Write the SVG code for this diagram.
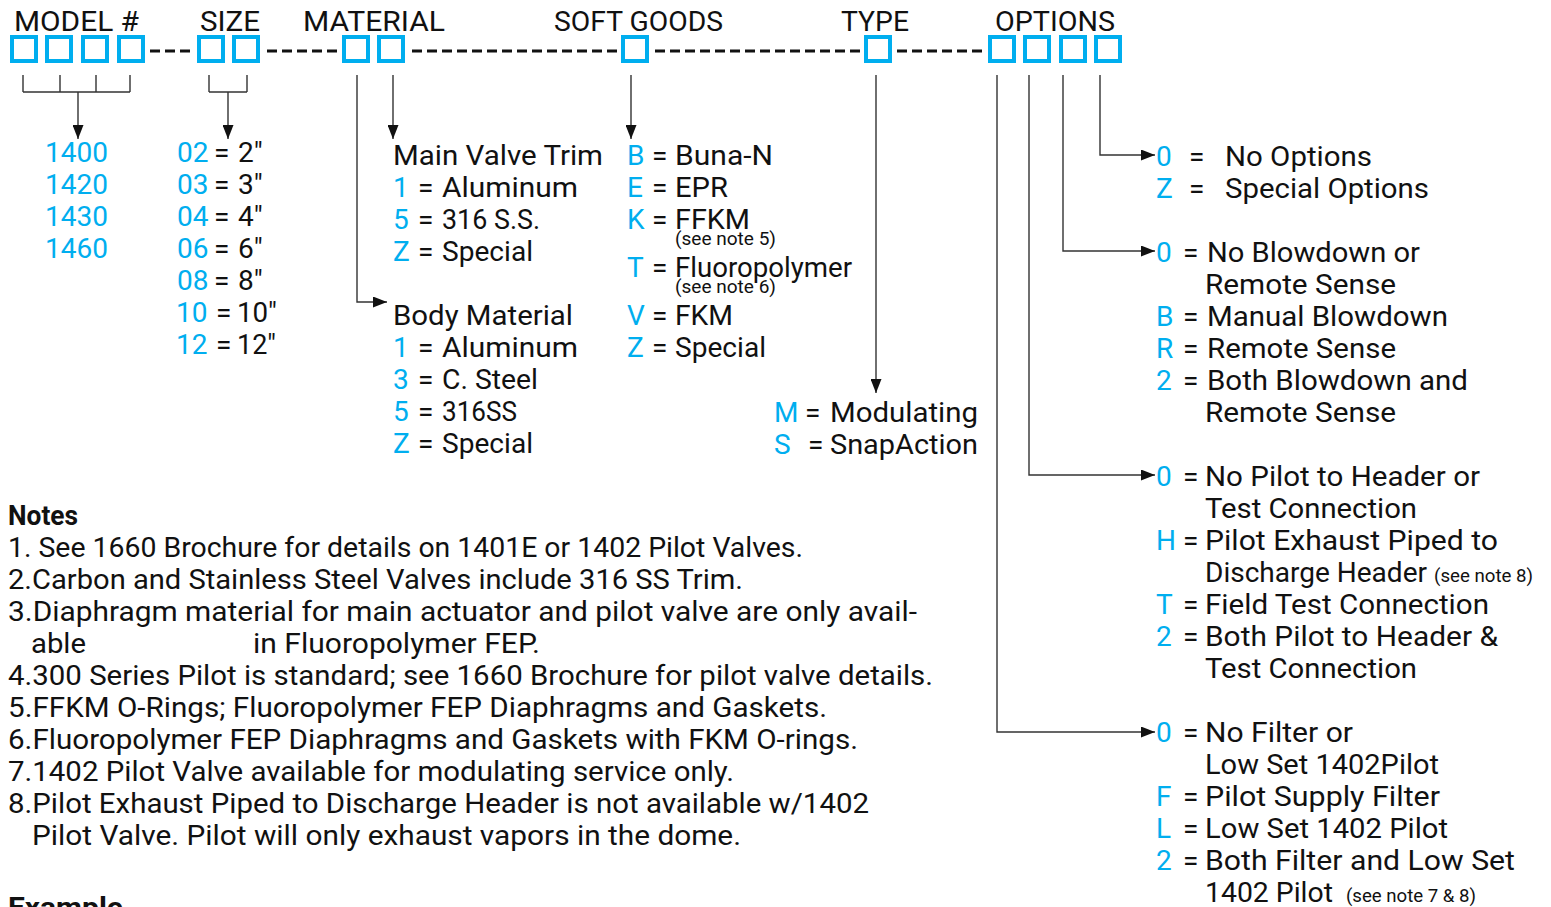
<svg xmlns="http://www.w3.org/2000/svg" width="1551" height="907" viewBox="0 0 1551 907">
  <style>
    text { font-family: Roboto, "Noto Sans", "Liberation Sans", sans-serif; font-size: 28px; fill: #111; }
    .c { fill: #00AEEF; }
    .sm { font-size: 18px; }
    .b { font-weight: bold; }
    .box { fill: none; stroke: #00AEEF; stroke-width: 4; }
    .dash { stroke: #111; stroke-width: 3; stroke-dasharray: 10 5; }
    .ln { fill: none; stroke: #333; stroke-width: 1.4; }
  </style>
  <defs>
    <marker id="arr" markerUnits="userSpaceOnUse" markerWidth="15" markerHeight="11" refX="14" refY="5.5" orient="auto">
      <path d="M0,0 L14,5.5 L0,11 Z" fill="#111"/>
    </marker>
  </defs>
  <rect width="1551" height="907" fill="#fff"/>

  <!-- part-number header -->
  <g id="header">
    <text x="14" y="31" textLength="125" lengthAdjust="spacingAndGlyphs">MODEL #</text>
    <text x="200" y="31" textLength="60" lengthAdjust="spacingAndGlyphs">SIZE</text>
    <text x="303" y="31" textLength="142" lengthAdjust="spacingAndGlyphs">MATERIAL</text>
    <text x="554" y="31" textLength="169" lengthAdjust="spacingAndGlyphs">SOFT GOODS</text>
    <text x="841" y="31" textLength="68" lengthAdjust="spacingAndGlyphs">TYPE</text>
    <text x="995" y="31" textLength="120" lengthAdjust="spacingAndGlyphs">OPTIONS</text>

    <rect class="box" x="12" y="37" width="24" height="24"/>
    <rect class="box" x="47" y="37" width="24" height="24"/>
    <rect class="box" x="83" y="37" width="24" height="24"/>
    <rect class="box" x="119" y="37" width="24" height="24"/>
    <rect class="box" x="199" y="37" width="24" height="24"/>
    <rect class="box" x="234" y="37" width="24" height="24"/>
    <rect class="box" x="344" y="37" width="24" height="24"/>
    <rect class="box" x="379" y="37" width="24" height="24"/>
    <rect class="box" x="623" y="37" width="24" height="24"/>
    <rect class="box" x="866" y="37" width="24" height="24"/>
    <rect class="box" x="990" y="37" width="24" height="24"/>
    <rect class="box" x="1025" y="37" width="24" height="24"/>
    <rect class="box" x="1061" y="37" width="24" height="24"/>
    <rect class="box" x="1096" y="37" width="24" height="24"/>

    <line class="dash" x1="150" y1="51" x2="192" y2="51"/>
    <line class="dash" x1="267" y1="51" x2="338" y2="51"/>
    <line class="dash" x1="412" y1="51" x2="617" y2="51"/>
    <line class="dash" x1="655" y1="51" x2="860" y2="51"/>
    <line class="dash" x1="897" y1="51" x2="983" y2="51"/>
  </g>

  <!-- connectors -->
  <g id="connectors">
    <path class="ln" d="M23,75 V92 M60,75 V92 M96,75 V92 M130,75 V92 M23,92 H130"/>
    <line class="ln" x1="78" y1="92" x2="78" y2="139" marker-end="url(#arr)"/>
    <path class="ln" d="M209,75 V92 M247,75 V92 M209,92 H247"/>
    <line class="ln" x1="228" y1="92" x2="228" y2="139" marker-end="url(#arr)"/>
    <line class="ln" x1="393" y1="75" x2="393" y2="139" marker-end="url(#arr)"/>
    <polyline class="ln" points="357,75 357,302 387,302" marker-end="url(#arr)"/>
    <line class="ln" x1="631" y1="75" x2="631" y2="139" marker-end="url(#arr)"/>
    <line class="ln" x1="876" y1="75" x2="876" y2="393" marker-end="url(#arr)"/>
    <polyline class="ln" points="1100,75 1100,155 1155,155" marker-end="url(#arr)"/>
    <polyline class="ln" points="1063,75 1063,251 1155,251" marker-end="url(#arr)"/>
    <polyline class="ln" points="1029,75 1029,475 1155,475" marker-end="url(#arr)"/>
    <polyline class="ln" points="997,75 997,732 1155,732" marker-end="url(#arr)"/>
  </g>

  <!-- model numbers -->
  <g id="model">
    <text class="c" x="45" y="162" textLength="63" lengthAdjust="spacingAndGlyphs">1400</text>
    <text class="c" x="45" y="194" textLength="63" lengthAdjust="spacingAndGlyphs">1420</text>
    <text class="c" x="45" y="226" textLength="63" lengthAdjust="spacingAndGlyphs">1430</text>
    <text class="c" x="45" y="258" textLength="63" lengthAdjust="spacingAndGlyphs">1460</text>
  </g>

  <!-- sizes -->
  <g id="size">
    <text class="c" x="177" y="162">02</text><text x="214" y="162">=</text><text x="238" y="162">2"</text>
    <text class="c" x="177" y="194">03</text><text x="214" y="194">=</text><text x="238" y="194">3"</text>
    <text class="c" x="177" y="226">04</text><text x="214" y="226">=</text><text x="238" y="226">4"</text>
    <text class="c" x="177" y="258">06</text><text x="214" y="258">=</text><text x="238" y="258">6"</text>
    <text class="c" x="177" y="290">08</text><text x="214" y="290">=</text><text x="238" y="290">8"</text>
    <text class="c" x="176" y="322">10</text><text x="216" y="322">=</text><text x="237" y="322" textLength="40" lengthAdjust="spacingAndGlyphs">10"</text>
    <text class="c" x="176" y="354">12</text><text x="216" y="354">=</text><text x="237" y="354" textLength="39" lengthAdjust="spacingAndGlyphs">12"</text>
  </g>

  <!-- material: main valve trim -->
  <g id="trim">
    <text x="393" y="165" textLength="210" lengthAdjust="spacingAndGlyphs">Main Valve Trim</text>
    <text class="c" x="393" y="197">1</text><text x="418" y="197">=</text><text x="442" y="197" textLength="136" lengthAdjust="spacingAndGlyphs">Aluminum</text>
    <text class="c" x="393" y="229">5</text><text x="418" y="229">=</text><text x="442" y="229" textLength="98" lengthAdjust="spacingAndGlyphs">316 S.S.</text>
    <text class="c" x="393" y="261">Z</text><text x="418" y="261">=</text><text x="442" y="261" textLength="91" lengthAdjust="spacingAndGlyphs">Special</text>
  </g>

  <!-- material: body -->
  <g id="body">
    <text x="393" y="325" textLength="180" lengthAdjust="spacingAndGlyphs">Body Material</text>
    <text class="c" x="393" y="357">1</text><text x="418" y="357">=</text><text x="442" y="357" textLength="136" lengthAdjust="spacingAndGlyphs">Aluminum</text>
    <text class="c" x="393" y="389">3</text><text x="418" y="389">=</text><text x="442" y="389" textLength="96" lengthAdjust="spacingAndGlyphs">C. Steel</text>
    <text class="c" x="393" y="421">5</text><text x="418" y="421">=</text><text x="442" y="421" textLength="75" lengthAdjust="spacingAndGlyphs">316SS</text>
    <text class="c" x="393" y="453">Z</text><text x="418" y="453">=</text><text x="442" y="453" textLength="91" lengthAdjust="spacingAndGlyphs">Special</text>
  </g>

  <!-- soft goods -->
  <g id="soft-goods">
    <text class="c" x="627" y="165">B</text><text x="652" y="165">=</text><text x="675" y="165" textLength="98" lengthAdjust="spacingAndGlyphs">Buna-N</text>
    <text class="c" x="627" y="197">E</text><text x="652" y="197">=</text><text x="675" y="197" textLength="53" lengthAdjust="spacingAndGlyphs">EPR</text>
    <text class="c" x="627" y="229">K</text><text x="652" y="229">=</text><text x="675" y="229" textLength="75" lengthAdjust="spacingAndGlyphs">FFKM</text>
    <text class="sm" x="675" y="245" textLength="101" lengthAdjust="spacingAndGlyphs">(see note 5)</text>
    <text class="c" x="627" y="277">T</text><text x="652" y="277">=</text><text x="675" y="277" textLength="177" lengthAdjust="spacingAndGlyphs">Fluoropolymer</text>
    <text class="sm" x="675" y="293" textLength="101" lengthAdjust="spacingAndGlyphs">(see note 6)</text>
    <text class="c" x="627" y="325">V</text><text x="652" y="325">=</text><text x="675" y="325" textLength="58" lengthAdjust="spacingAndGlyphs">FKM</text>
    <text class="c" x="627" y="357">Z</text><text x="652" y="357">=</text><text x="675" y="357" textLength="91" lengthAdjust="spacingAndGlyphs">Special</text>
  </g>

  <!-- type -->
  <g id="type">
    <text class="c" x="774" y="422">M</text><text x="805" y="422">=</text><text x="830" y="422" textLength="148" lengthAdjust="spacingAndGlyphs">Modulating</text>
    <text class="c" x="774" y="454">S</text><text x="808" y="454">=</text><text x="830" y="454" textLength="148" lengthAdjust="spacingAndGlyphs">SnapAction</text>
  </g>

  <!-- options: special -->
  <g id="opt-special">
    <text class="c" x="1156" y="166">0</text><text x="1189" y="166">=</text><text x="1225" y="166" textLength="147" lengthAdjust="spacingAndGlyphs">No Options</text>
    <text class="c" x="1156" y="198">Z</text><text x="1189" y="198">=</text><text x="1225" y="198" textLength="204" lengthAdjust="spacingAndGlyphs">Special Options</text>
  </g>

  <!-- options: blowdown / remote sense -->
  <g id="opt-blowdown">
    <text class="c" x="1156" y="262">0</text><text x="1183" y="262">=</text><text x="1207" y="262" textLength="213" lengthAdjust="spacingAndGlyphs">No Blowdown or</text>
    <text x="1205" y="294" textLength="191" lengthAdjust="spacingAndGlyphs">Remote Sense</text>
    <text class="c" x="1156" y="326">B</text><text x="1183" y="326">=</text><text x="1207" y="326" textLength="241" lengthAdjust="spacingAndGlyphs">Manual Blowdown</text>
    <text class="c" x="1156" y="358">R</text><text x="1183" y="358">=</text><text x="1207" y="358" textLength="189" lengthAdjust="spacingAndGlyphs">Remote Sense</text>
    <text class="c" x="1156" y="390">2</text><text x="1183" y="390">=</text><text x="1207" y="390" textLength="261" lengthAdjust="spacingAndGlyphs">Both Blowdown and</text>
    <text x="1205" y="422" textLength="191" lengthAdjust="spacingAndGlyphs">Remote Sense</text>
  </g>

  <!-- options: pilot to header / test connection -->
  <g id="opt-header">
    <text class="c" x="1156" y="486">0</text><text x="1183" y="486">=</text><text x="1205" y="486" textLength="275" lengthAdjust="spacingAndGlyphs">No Pilot to Header or</text>
    <text x="1205" y="518" textLength="212" lengthAdjust="spacingAndGlyphs">Test Connection</text>
    <text class="c" x="1156" y="550">H</text><text x="1183" y="550">=</text><text x="1205" y="550" textLength="293" lengthAdjust="spacingAndGlyphs">Pilot Exhaust Piped to</text>
    <text x="1205" y="582" textLength="222" lengthAdjust="spacingAndGlyphs">Discharge Header</text>
    <text class="sm" x="1434" y="582" textLength="99" lengthAdjust="spacingAndGlyphs">(see note 8)</text>
    <text class="c" x="1156" y="614">T</text><text x="1183" y="614">=</text><text x="1205" y="614" textLength="284" lengthAdjust="spacingAndGlyphs">Field Test Connection</text>
    <text class="c" x="1156" y="646">2</text><text x="1183" y="646">=</text><text x="1205" y="646" textLength="293" lengthAdjust="spacingAndGlyphs">Both Pilot to Header &amp;</text>
    <text x="1205" y="678" textLength="212" lengthAdjust="spacingAndGlyphs">Test Connection</text>
  </g>

  <!-- options: filter / low set pilot -->
  <g id="opt-filter">
    <text class="c" x="1156" y="742">0</text><text x="1183" y="742">=</text><text x="1205" y="742" textLength="148" lengthAdjust="spacingAndGlyphs">No Filter or</text>
    <text x="1205" y="774" textLength="234" lengthAdjust="spacingAndGlyphs">Low Set 1402Pilot</text>
    <text class="c" x="1156" y="806">F</text><text x="1183" y="806">=</text><text x="1205" y="806" textLength="235" lengthAdjust="spacingAndGlyphs">Pilot Supply Filter</text>
    <text class="c" x="1156" y="838">L</text><text x="1183" y="838">=</text><text x="1205" y="838" textLength="243" lengthAdjust="spacingAndGlyphs">Low Set 1402 Pilot</text>
    <text class="c" x="1156" y="870">2</text><text x="1183" y="870">=</text><text x="1205" y="870" textLength="310" lengthAdjust="spacingAndGlyphs">Both Filter and Low Set</text>
    <text x="1205" y="902" textLength="128" lengthAdjust="spacingAndGlyphs">1402 Pilot</text>
    <text class="sm" x="1346" y="902" textLength="130" lengthAdjust="spacingAndGlyphs">(see note 7 &amp; 8)</text>
  </g>

  <!-- notes -->
  <g id="notes">
    <text class="b" x="8" y="525" textLength="70" lengthAdjust="spacingAndGlyphs">Notes</text>
    <text x="8" y="557" textLength="795" lengthAdjust="spacingAndGlyphs">1. See 1660 Brochure for details on 1401E or 1402 Pilot Valves.</text>
    <text x="8" y="589" textLength="735" lengthAdjust="spacingAndGlyphs">2.Carbon and Stainless Steel Valves include 316 SS Trim.</text>
    <text x="8" y="621" textLength="909" lengthAdjust="spacingAndGlyphs">3.Diaphragm material for main actuator and pilot valve are only avail-</text>
    <text x="31" y="653" textLength="55" lengthAdjust="spacingAndGlyphs">able</text>
    <text x="253" y="653" textLength="287" lengthAdjust="spacingAndGlyphs">in Fluoropolymer FEP.</text>
    <text x="8" y="685" textLength="925" lengthAdjust="spacingAndGlyphs">4.300 Series Pilot is standard; see 1660 Brochure for pilot valve details.</text>
    <text x="8" y="717" textLength="819" lengthAdjust="spacingAndGlyphs">5.FFKM O-Rings; Fluoropolymer FEP Diaphragms and Gaskets.</text>
    <text x="8" y="749" textLength="850" lengthAdjust="spacingAndGlyphs">6.Fluoropolymer FEP Diaphragms and Gaskets with FKM O-rings.</text>
    <text x="8" y="781" textLength="726" lengthAdjust="spacingAndGlyphs">7.1402 Pilot Valve available for modulating service only.</text>
    <text x="8" y="813" textLength="861" lengthAdjust="spacingAndGlyphs">8.Pilot Exhaust Piped to Discharge Header is not available w/1402</text>
    <text x="32" y="845" textLength="709" lengthAdjust="spacingAndGlyphs">Pilot Valve. Pilot will only exhaust vapors in the dome.</text>
    <text class="b" x="8" y="917" textLength="115" lengthAdjust="spacingAndGlyphs">Example</text>
  </g>
</svg>
